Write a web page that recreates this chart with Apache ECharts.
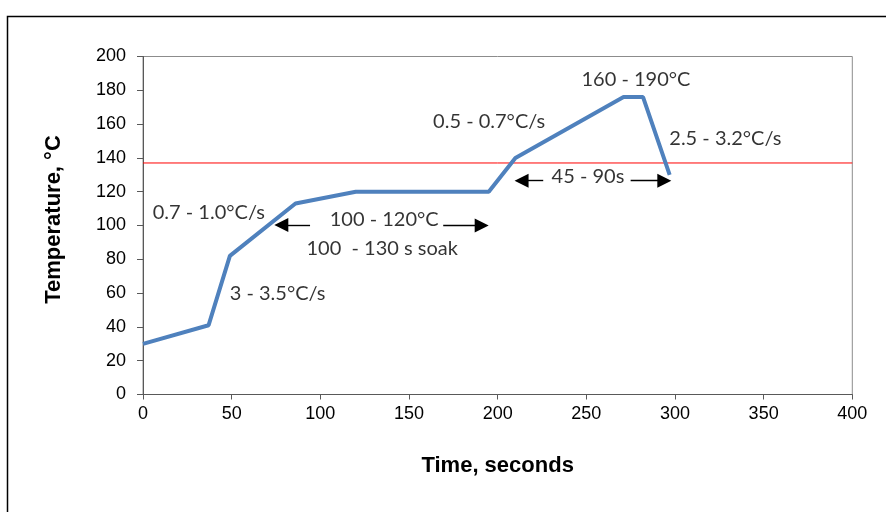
<!DOCTYPE html>
<html>
<head>
<meta charset="utf-8">
<script src="https://cdn.jsdelivr.net/npm/echarts@6/dist/echarts.min.js"></script>
<style>
html,body{margin:0;padding:0;background:#fff;}
#chart{width:886px;height:512px;}
</style>
</head>
<body>
<div id="chart"></div>
<script>
// Reflow profile (time in s, temperature in °C)
var timeValues = [0, 37, 49, 86, 120, 195, 210, 271, 282, 297];
var tempValues = [30, 41, 82, 113, 120, 120, 140, 176, 176, 130];
var thresholdTemp = 137;

var xTicks = {min: 0, max: 400, interval: 50};
var yTicks = {min: 0, max: 200, interval: 20};

// Annotation text anchored at its left edge, data coordinates
var noteX = [5.5, 105.3, 92.2, 48.9, 163.6, 247.3, 296.8, 230.4];
var noteY = [107.4, 103.7, 86.5, 59.5, 161.8, 186.1, 151.2, 128.9];
var noteText = ['0.7 - 1.0°C/s', '100 - 120°C', '100  - 130 s soak', '3 - 3.5°C/s',
                '0.5 - 0.7°C/s', '160 - 190°C', '2.5 - 3.2°C/s', '45 - 90s'];

// Arrows: from (tail) -> to (head)
var arrowFromX = [94.2, 169.3, 225.7, 275.0];
var arrowToX   = [78.0, 191.0, 213.5, 294.0];
var arrowY     = [100.3, 100.0, 126.5, 126.5];

var profile = timeValues.map(function (t, i) { return [t, tempValues[i]]; });
var threshold = [[xTicks.min, thresholdTemp], [xTicks.max, thresholdTemp]];
var notes = noteX.map(function (x, i) { return [x, noteY[i], noteText[i]]; });
var arrows = arrowFromX.map(function (x, i) {
  return [{coord: [x, arrowY[i]]}, {coord: [arrowToX[i], arrowY[i]]}];
});

var chart = echarts.init(document.getElementById('chart'));
chart.setOption({
  animation: false,
  backgroundColor: '#fff',
  graphic: [{
    type: 'rect', shape: {x: 7.5, y: 16.5, width: 900, height: 600},
    style: {fill: 'none', stroke: '#000', lineWidth: 1.5}, silent: true, z: -10
  }],
  grid: {left: 143, top: 56.5, right: 33.7, bottom: 117.5, show: true,
         borderColor: '#8c8c8c', borderWidth: 1, backgroundColor: 'transparent'},
  xAxis: {
    type: 'value', min: xTicks.min, max: xTicks.max, interval: xTicks.interval,
    name: 'Time, seconds', nameLocation: 'middle', nameGap: 60,
    nameTextStyle: {fontFamily: 'Liberation Sans, Arial', fontWeight: 'bold', fontSize: 22, color: '#000'},
    axisLine: {show: true, lineStyle: {color: '#595959', width: 1}},
    axisTick: {show: true, length: 5, lineStyle: {color: '#595959'}},
    axisLabel: {margin: 11, fontFamily: 'Liberation Sans, Arial', fontSize: 18, color: '#000'},
    splitLine: {show: false}
  },
  yAxis: {
    type: 'value', min: yTicks.min, max: yTicks.max, interval: yTicks.interval,
    name: 'Temperature, °C', nameLocation: 'middle', nameGap: 78, nameRotate: 90,
    nameTextStyle: {fontFamily: 'Liberation Sans, Arial', fontWeight: 'bold', fontSize: 22, color: '#000',
                    padding: [0, 0, 0, 12]},
    axisLine: {show: true, lineStyle: {color: '#595959', width: 1}},
    axisTick: {show: true, length: 6, lineStyle: {color: '#595959'}},
    axisLabel: {margin: 17, fontFamily: 'Liberation Sans, Arial', fontSize: 18, color: '#000'},
    splitLine: {show: false}
  },
  series: [
    {
      type: 'line', data: threshold, showSymbol: false, symbol: 'none', silent: true,
      lineStyle: {color: '#ff0000', width: 1}, z: 2
    },
    {
      type: 'line', data: profile, showSymbol: false, symbol: 'none',
      lineStyle: {color: '#4f81bd', width: 4}, z: 3
    },
    {
      type: 'scatter', data: notes, symbolSize: 0, silent: true, z: 5,
      label: {
        show: true, position: 'right', distance: 0,
        formatter: function (p) { return p.data[2]; },
        fontFamily: 'Lato, Calibri, sans-serif', fontSize: 20, color: '#000'
      }
    },
    {
      type: 'line', data: [], silent: true,
      markLine: {
        silent: true, symbol: ['none', 'triangle'], symbolSize: [14, 14],
        label: {show: false},
        lineStyle: {color: '#000', width: 1.4, type: 'solid'},
        itemStyle: {color: '#000'},
        data: arrows
      }
    }
  ]
});
</script>
</body>
</html>
